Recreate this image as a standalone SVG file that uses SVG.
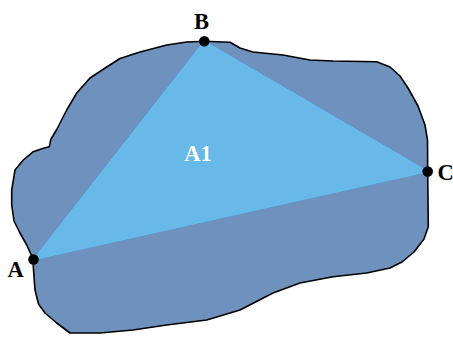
<svg xmlns="http://www.w3.org/2000/svg" width="453" height="337" viewBox="0 0 453 337">
<style>
.lbl{font-family:"Liberation Serif","Times New Roman",serif;font-weight:bold;font-size:22.5px;fill:#000}
.dot{fill:#000}
</style>
<rect width="453" height="337" fill="#fff"/>
<g id="region">
<path d="M33.3,259.3 L26.7,245 L20,233 L14,221 L11.7,205 L11.7,190 L15,170 L23.3,160 L33.3,151.7 L43.3,148.3 L49.3,146.7 L51,139 L57,129 L66.7,110 L76.7,93 L90,78 L106.7,67 L120,58.5 L140,52 L166.7,45 L186.7,42 L204.3,41.3 L230,42.3 L240,48 L253,52 L283,55 L310,60 L333,61 L376.7,61.7 L390,67 L400,76 L408,88 L418,106 L425,125 L427.5,140 L427.7,171.7 L428.3,226.7 L424,239 L414,252 L402,262 L390,268 L366.7,273 L333,276.7 L300,283 L273,293 L240,310 L206.7,320 L166.7,325 L133,330 L100,333 L70,333 L56.7,323 L45,313 L38.5,304 L35,290 L33.3,267 Z" fill="#6E91BD" stroke="#000" stroke-width="1.6" stroke-linejoin="round"/>
</g>
<g id="triangle">
<polygon points="33.5,259.5 204.3,41.3 427.7,171.5" fill="#68B8E8" stroke="#5EC0F5" stroke-width="1.2"/>
<text class="lbl" x="198" y="160.5" text-anchor="middle" style="fill:#fff">A1</text>
</g>
<g id="A">
<circle class="dot" cx="33.5" cy="259.5" r="5.3"/>
<text class="lbl" x="15.5" y="276.5" text-anchor="middle">A</text>
</g>
<g id="B">
<circle class="dot" cx="204.3" cy="41.3" r="5.3"/>
<text class="lbl" x="201.5" y="28.5" text-anchor="middle">B</text>
</g>
<g id="C">
<circle class="dot" cx="427.7" cy="171.5" r="5.3"/>
<text class="lbl" x="437.5" y="180">C</text>
</g>
</svg>
